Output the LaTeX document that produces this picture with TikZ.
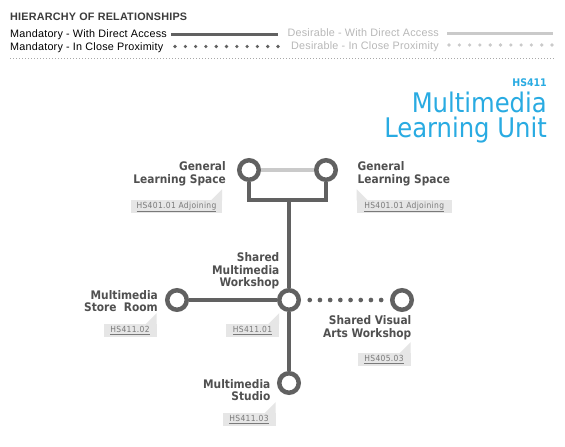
\documentclass[tikz,border=0pt]{standalone}
\usepackage{fontspec}
\setmainfont{Liberation Sans}
\newfontfamily\dinfont{DejaVuSansCondensed}[Extension=.ttf, BoldFont=DejaVuSansCondensed-Bold]
\newfontfamily\tagfont{DejaVuSansCondensed}[Extension=.ttf, LetterSpace=4]
\newfontfamily\legendfont{Liberation Sans}[LetterSpace=2]
\definecolor{colorLink}{HTML}{616161}
\definecolor{colorDesire}{HTML}{CACACA}
\definecolor{colorLabel}{HTML}{505050}
\definecolor{colorTag}{HTML}{E6E6E6}
\definecolor{colorTagText}{HTML}{7A7A7A}
\definecolor{colorTitle}{HTML}{29ABE2}
\definecolor{colorHead}{HTML}{3C3C3C}
\definecolor{colorDesireText}{HTML}{B8B8B8}
\definecolor{colorSep}{HTML}{A8A8A8}
\usetikzlibrary{positioning}
\tikzset{
  room/.style={circle, draw=colorLink, line width=4.5pt, fill=white, minimum size=19.5pt, inner sep=0pt},
  roomlabel/.style={font=\dinfont\bfseries\fontsize{11.8}{12.6}\selectfont, text=colorLabel, inner sep=0pt},
  tagbox/.style={fill=colorTag, text=colorTagText, font=\tagfont\fontsize{8.4}{9}\selectfont, minimum height=12.5pt, minimum width=53pt, inner sep=0pt},
  legendtext/.style={font=\legendfont\fontsize{10.8}{12}\selectfont, inner sep=0pt, anchor=base west},
  mandatory/.style={draw=colorLink, line width=4.5pt},
  desirable/.style={draw=colorDesire, line width=3.5pt},
  proximity/.style={draw=colorLink, line width=4.7pt, line cap=round, dash pattern=on 0pt off 10.2pt},
}

\begin{document}
\begin{tikzpicture}[x=1pt, y=-1pt]
\path[use as bounding box, fill=white] (0,0) rectangle (565,447);

\node[legendtext, font=\legendfont\bfseries\fontsize{10.8}{12}\selectfont, text=colorHead] (head) at (10,20) {HIERARCHY OF RELATIONSHIPS};
\node[legendtext] (mda) at (10,37.5) {Mandatory - With Direct Access};
\node[legendtext] (mcp) at (10,50) {Mandatory - In Close Proximity};
\node[legendtext, anchor=base east, text=colorDesireText] (dda) at (439,36.5) {Desirable - With Direct Access};
\node[legendtext, anchor=base east, text=colorDesireText] (dcp) at (439,49) {Desirable - In Close Proximity};
\coordinate (mda1) at (171,34);
\coordinate (mda2) at (278,34);
\coordinate (mcp1) at (175,46.5);
\coordinate (mcp2) at (279,46.5);
\coordinate (dda1) at (447,33);
\coordinate (dda2) at (553,33);
\coordinate (dcp1) at (449,45);
\coordinate (dcp2) at (553,45);
\coordinate (sep1) at (10,58.5);
\coordinate (sep2) at (555,58.5);
\draw[draw=colorLink, line width=3pt] (mda1) -- (mda2);
\draw[proximity, line width=3.6pt, dash pattern=on 0pt off 10.3pt] (mcp1) -- (mcp2);
\draw[draw=colorDesire, line width=3pt] (dda1) -- (dda2);
\draw[proximity, draw=colorDesire, line width=3.6pt, dash pattern=on 0pt off 10.3pt] (dcp1) -- (dcp2);
\draw[draw=colorSep, line width=0.9pt, dash pattern=on 1pt off 2pt] (sep1) -- (sep2);

\node[anchor=base east, inner sep=0pt, text=colorTitle, font=\dinfont\bfseries\fontsize{10.5}{12}\selectfont] (code) at (547,86) {HS411};
\node[anchor=base east, inner sep=0pt, text=colorTitle, font=\dinfont\fontsize{27}{30}\selectfont] (title1) at (547,112) {Multimedia};
\node[anchor=base east, inner sep=0pt, text=colorTitle, font=\dinfont\fontsize{27}{30}\selectfont] (title2) at (547,137) {Learning Unit};

\coordinate (fork) at (289,200);
\node[room] (gls1) at (249,170) {};
\node[room] (gls2) at (326,170) {};
\node[room] (smw) at (289,300) {};
\node[room] (store) at (177,300) {};
\node[room] (visual) at (402,300) {};
\node[room] (studio) at (289,383) {};

\draw[desirable] (gls1) -- (gls2);
\draw[mandatory] (gls1) |- (fork) -| (gls2);
\draw[mandatory] (fork) -- (smw);
\draw[mandatory] (smw) -- (store);
\draw[mandatory] (smw) -- (studio);
\draw[proximity, shorten <=8.75pt, shorten >=7.5pt] (smw) -- (visual);

\node[roomlabel, align=right, anchor=east] (lgls1) at (226,174) {General\\Learning Space};
\node[roomlabel, align=left, anchor=west] (lgls2) at (357.5,174) {General\\Learning Space};
\node[roomlabel, align=right, anchor=east] (lsmw) at (279.5,271) {Shared\\Multimedia\\Workshop};
\node[roomlabel, align=right, anchor=east] (lstore) at (158,301) {Multimedia\\Store\ \ Room};
\node[roomlabel, align=right, anchor=east] (lvisual) at (411.5,328) {Shared Visual\\Arts Workshop};
\node[roomlabel, align=right, anchor=east] (lstudio) at (270.5,390) {Multimedia\\Studio};

\node[tagbox, minimum width=91pt] (tgls1) at (176.5,206.7) {\underline{HS401.01 Adjoining}};
\node[tagbox, minimum width=95pt] (tgls2) at (404.2,206.7) {\underline{HS401.01 Adjoining}};
\node[tagbox] (tstore) at (130,330.5) {\underline{HS411.02}};
\node[tagbox] (tsmw) at (252.5,330.5) {\underline{HS411.01}};
\node[tagbox] (tvisual) at (384,359.5) {\underline{HS405.03}};
\node[tagbox] (tstudio) at (249,419.5) {\underline{HS411.03}};
\foreach \t in {tgls1, tstore, tsmw, tvisual, tstudio}
  \fill[colorTag] (\t.north east) -- ++(0,-11) -- ++(-11,11) -- cycle;
\fill[colorTag] (tgls2.north west) -- ++(0,-11) -- ++(11,11) -- cycle;
\end{tikzpicture}
\end{document}
